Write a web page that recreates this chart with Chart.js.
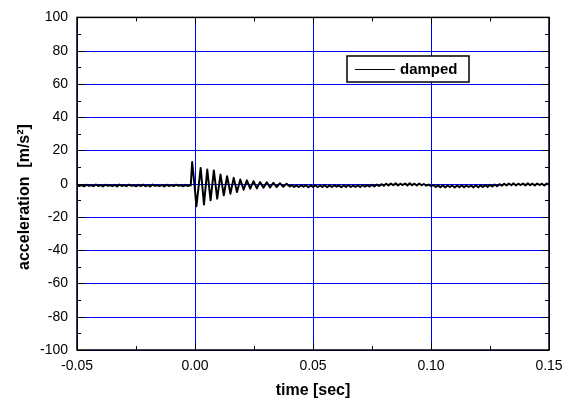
<!DOCTYPE html>
<html>
<head>
<meta charset="utf-8">
<script src="https://cdn.jsdelivr.net/npm/chart.js@4"></script>
<style>
  html, body { margin: 0; padding: 0; background: #fff; }
  #wrap { width: 574px; height: 400px; }
</style>
</head>
<body>
<div id="wrap"><canvas id="myChart" width="574" height="400"></canvas></div>
<script>
// time axis (sec) and acceleration (m/s^2)
const timeSec = [
  -0.050, -0.049, -0.048, -0.047, -0.046, -0.045, -0.044, -0.043, -0.042, -0.041,
  -0.040, -0.039, -0.038, -0.037, -0.036, -0.035, -0.034, -0.033, -0.032, -0.031,
  -0.030, -0.029, -0.028, -0.027, -0.026, -0.025, -0.024, -0.023, -0.022, -0.021,
  -0.020, -0.019, -0.018, -0.017, -0.016, -0.015, -0.014, -0.013, -0.012, -0.011,
  -0.010, -0.009, -0.008, -0.007, -0.006, -0.005, -0.004, -0.003, -0.002,
  -0.0018, -0.0012, -0.0004, 0.0006, 0.0024, 0.0038, 0.0052, 0.0066, 0.0080, 0.0094,
  0.0108, 0.0122, 0.0136, 0.0150, 0.0164, 0.0178, 0.0192, 0.0206, 0.0220, 0.0234,
  0.0248, 0.0262, 0.0276, 0.0290, 0.0304, 0.0318, 0.0332, 0.0346, 0.0360, 0.0374,
  0.0388, 0.0402,
  0.041, 0.042, 0.043, 0.044, 0.045, 0.046, 0.047, 0.048, 0.049, 0.050,
  0.051, 0.052, 0.053, 0.054, 0.055, 0.056, 0.057, 0.058, 0.059, 0.060,
  0.061, 0.062, 0.063, 0.064, 0.065, 0.066, 0.067, 0.068, 0.069, 0.070,
  0.071, 0.072, 0.073, 0.074, 0.075, 0.076, 0.077, 0.078, 0.079, 0.080,
  0.081, 0.082, 0.083, 0.084, 0.085, 0.086, 0.087, 0.088, 0.089, 0.090,
  0.091, 0.092, 0.093, 0.094, 0.095, 0.096, 0.097, 0.098, 0.099, 0.100,
  0.101, 0.102, 0.103, 0.104, 0.105, 0.106, 0.107, 0.108, 0.109, 0.110,
  0.111, 0.112, 0.113, 0.114, 0.115, 0.116, 0.117, 0.118, 0.119, 0.120,
  0.121, 0.122, 0.123, 0.124, 0.125, 0.126, 0.127, 0.128, 0.129, 0.130,
  0.131, 0.132, 0.133, 0.134, 0.135, 0.136, 0.137, 0.138, 0.139, 0.140,
  0.141, 0.142, 0.143, 0.144, 0.145, 0.146, 0.147, 0.148, 0.149, 0.150
];
const damped = [
  -0.7, -1.4, -0.8, -1.6, -0.6, -1.3, -0.9, -1.5, -0.5, -1.4,
  -0.8, -1.7, -0.6, -1.3, -0.9, -1.5, -0.7, -1.6, -0.5, -1.4,
  -0.8, -1.5, -0.6, -1.3, -0.9, -1.6, -0.7, -1.4, -0.6, -1.5,
  -0.8, -1.7, -0.5, -1.3, -0.9, -1.5, -0.7, -1.6, -0.6, -1.4,
  -0.8, -1.5, -0.6, -1.3, -0.9, -1.6, -0.7, -1.4, -0.8,
  -1.0, 13.0, 2.0, -13.5, 9.5, -12.5, 8.5, -10.0, 8.0, -9.0,
  5.5, -7.0, 4.5, -6.0, 3.5, -5.0, 2.5, -3.6, 2.0, -3.0,
  1.5, -2.8, 1.0, -2.4, 0.8, -2.2, 0.5, -2.0, 0.3, -1.8,
  0.0, -1.7,
  -0.8, -1.9, -1.0, -2.0, -0.9, -1.8, -0.8, -2.1, -1.0, -1.9,
  -0.9, -2.0, -1.1, -1.9, -0.8, -2.1, -1.0, -2.0, -0.9, -1.8,
  -1.0, -2.1, -0.9, -1.9, -0.8, -2.0, -1.1, -1.9, -0.9, -2.0,
  -0.8, -1.8, -0.9, -1.7, -0.6, -1.6, -0.5, -1.4, -0.3, -1.2,
  0.0, -1.0, 0.1, -0.9, 0.2, -1.0, 0.0, -0.8, 0.1, -1.0,
  0.2, -0.9, 0.0, -1.1, 0.1, -0.9, -0.2, -1.2, -0.5, -1.5,
  -0.8, -2.0, -1.0, -2.1, -0.9, -2.2, -1.1, -2.0, -1.0, -2.3,
  -1.1, -2.1, -0.9, -2.2, -1.0, -2.0, -1.1, -2.2, -0.9, -2.1,
  -1.0, -2.0, -0.8, -1.9, -0.7, -1.7, -0.5, -1.5, -0.3, -1.2,
  0.0, -1.0, 0.1, -0.9, 0.2, -1.1, 0.0, -0.8, 0.1, -1.0,
  0.2, -0.9, 0.0, -1.0, 0.1, -0.8, 0.0, -1.1, 0.1, -0.6
];
const xTickLabels = ['-0.05', '0.00', '0.05', '0.10', '0.15'];
const yTickLabels = ['-100', '-80', '-60', '-40', '-20', '0', '20', '40', '60', '80', '100'];

const gridBlue = '#0000ff';
const fontFamily = '"Liberation Sans", Arial, sans-serif';

const isMajorX = v => Math.abs(Math.round(v * 1000)) % 50 === 0;
const isMajorY = v => Math.round(v) % 20 === 0;

// blue grid under the data
const gridPlugin = {
  id: 'blueGrid',
  beforeDatasetsDraw(chart) {
    const { ctx, chartArea: a, scales: { x, y } } = chart;
    ctx.save();
    ctx.strokeStyle = gridBlue;
    ctx.lineWidth = 1;
    ctx.beginPath();
    x.ticks.forEach(t => {
      if (!isMajorX(t.value)) return;
      const px = Math.round(x.getPixelForValue(t.value)) + 0.5;
      ctx.moveTo(px, a.top); ctx.lineTo(px, a.bottom);
    });
    y.ticks.forEach(t => {
      if (!isMajorY(t.value)) return;
      const py = Math.round(y.getPixelForValue(t.value)) + 0.5;
      ctx.moveTo(a.left, py); ctx.lineTo(a.right, py);
    });
    ctx.stroke();
    ctx.restore();
  }
};

// frame, inward ticks and the boxed legend
const framePlugin = {
  id: 'frame',
  afterDatasetsDraw(chart) {
    const { ctx, chartArea: a, scales: { x, y } } = chart;
    ctx.save();
    ctx.strokeStyle = '#000';
    ctx.lineWidth = 1;
    ctx.beginPath();
    y.ticks.forEach(t => {
      const py = Math.round(y.getPixelForValue(t.value)) + 0.5;
      const len = isMajorY(t.value) ? 7 : 4;
      ctx.moveTo(a.left, py); ctx.lineTo(a.left + len, py);
      ctx.moveTo(a.right, py); ctx.lineTo(a.right - len, py);
    });
    x.ticks.forEach(t => {
      const px = Math.round(x.getPixelForValue(t.value)) + 0.5;
      const len = isMajorX(t.value) ? 7 : 4;
      ctx.moveTo(px, a.bottom); ctx.lineTo(px, a.bottom - len);
      ctx.moveTo(px, a.top); ctx.lineTo(px, a.top + len);
    });
    ctx.stroke();

    ctx.lineWidth = 1.5;
    ctx.strokeRect(a.left, a.top, a.right - a.left, a.bottom - a.top);

    // legend box
    const bx = 347, by = 56, bw = 122, bh = 26;
    ctx.fillStyle = '#fff';
    ctx.fillRect(bx, by, bw, bh);
    ctx.lineWidth = 1.5;
    ctx.strokeRect(bx, by, bw, bh);
    ctx.lineWidth = 1;
    ctx.beginPath();
    ctx.moveTo(355, by + bh / 2 + 0.5); ctx.lineTo(395, by + bh / 2 + 0.5);
    ctx.stroke();
    ctx.fillStyle = '#000';
    ctx.font = 'bold 15px ' + fontFamily;
    ctx.textBaseline = 'middle';
    ctx.textAlign = 'left';
    ctx.fillText(chart.data.datasets[0].label, 400, by + bh / 2 + 1);
    ctx.restore();
  }
};

const ctx = document.getElementById('myChart');
new Chart(ctx, {
  type: 'line',
  data: {
    datasets: [{
      label: 'damped',
      data: timeSec.map((t, i) => ({ x: t, y: damped[i] })),
      borderColor: '#000',
      borderWidth: 2,
      borderJoinStyle: 'round',
      pointRadius: 0,
      tension: 0,
      fill: false,
    }],
  },
  plugins: [gridPlugin, framePlugin],
  options: {
    responsive: false,
    animation: false,
    layout: { padding: { top: 10, right: 25, left: 0, bottom: 0 } },
    plugins: {
      legend: { display: false },
      tooltip: { enabled: false },
    },
    scales: {
      x: {
        type: 'linear',
        min: -0.05,
        max: 0.15,
        afterFit: s => { s.height = 50; },
        border: { display: false },
        grid: { display: false, drawTicks: false },
        ticks: {
          stepSize: 0.025,
          padding: 8,
          maxRotation: 0,
          autoSkip: false,
          color: '#000',
          font: { family: fontFamily, size: 14 },
          callback: v => isMajorX(v) ? xTickLabels[Math.round((v + 0.05) / 0.05)] : '',
        },
        title: {
          display: true,
          text: 'time [sec]',
          color: '#000',
          font: { family: fontFamily, size: 16, weight: 'bold' },
          padding: { top: 1, bottom: 0 },
        },
      },
      y: {
        min: -100,
        max: 100,
        afterFit: s => { s.width = 77; },
        border: { display: false },
        grid: { display: false, drawTicks: false },
        ticks: {
          stepSize: 10,
          padding: 9,
          autoSkip: false,
          color: '#000',
          font: { family: fontFamily, size: 14 },
          callback: v => isMajorY(v) ? yTickLabels[Math.round((v + 100) / 20)] : '',
        },
        title: {
          display: true,
          text: 'acceleration  [m/s\u00B2]      ',
          color: '#000',
          font: { family: fontFamily, size: 16, weight: 'bold' },
          padding: { top: 15, bottom: 0 },
        },
      },
    },
  },
});
</script>
</body>
</html>
